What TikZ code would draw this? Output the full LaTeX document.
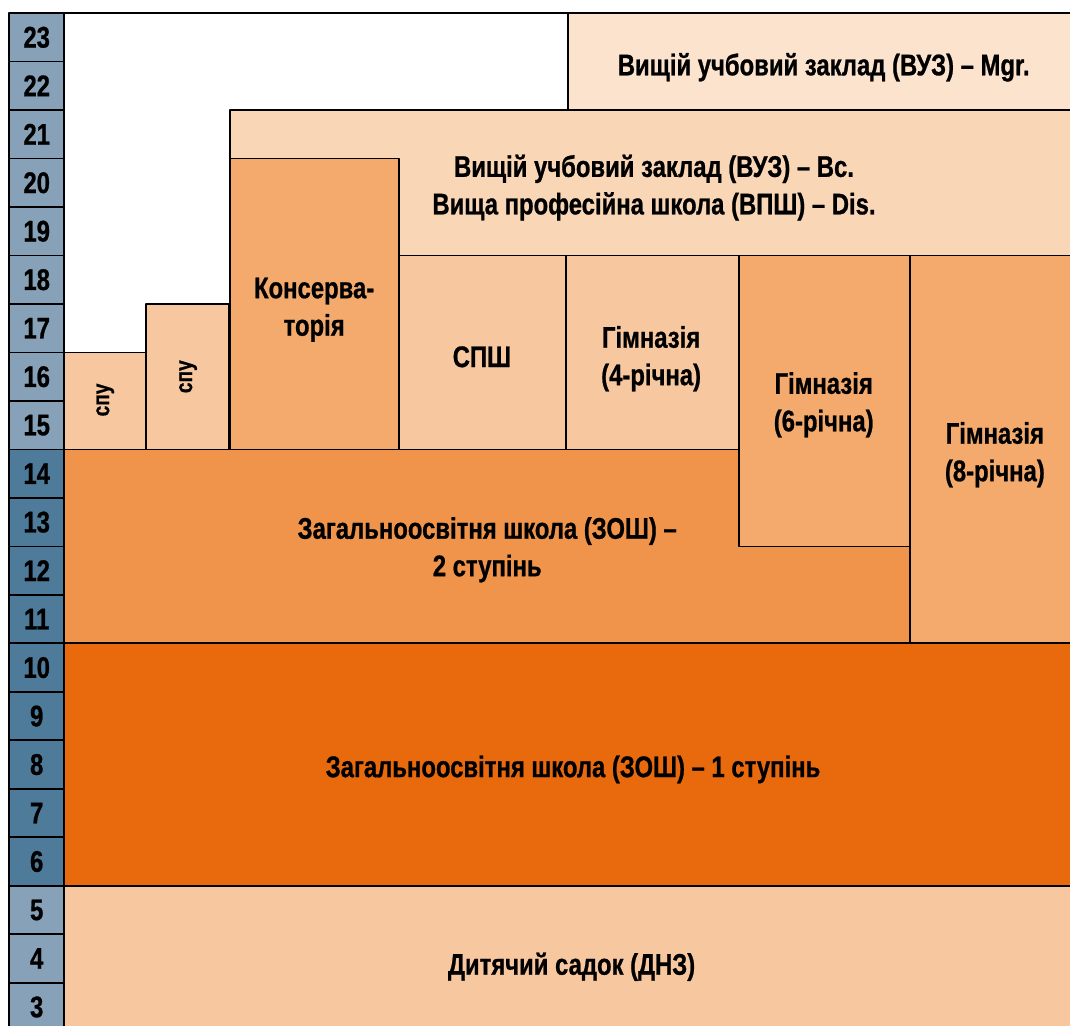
\documentclass[tikz,border=0pt]{standalone}
\usepackage{fontspec}
\setmainfont{Liberation Sans}[FakeStretch=0.8, FakeBold=0.8]
\definecolor{agelight}{RGB}{135,162,184}
\definecolor{agedark}{RGB}{79,123,154}
\definecolor{peach}{RGB}{247,200,160}
\definecolor{vuzbc}{RGB}{249,214,182}
\definecolor{vuzmgr}{RGB}{252,227,205}
\definecolor{gym}{RGB}{244,170,108}
\definecolor{zosh2}{RGB}{239,148,74}
\definecolor{zosh1}{RGB}{233,105,13}
\tikzset{
	box/.style={draw=black, line width=1pt},
	lbl/.style={align=center, inner sep=0pt},
	age/.style={draw=black, line width=1pt, minimum width=1.134cm, minimum height=1cm, inner sep=0pt, outer sep=0pt},
}
\begin{document}
\begin{tikzpicture}[font=\bfseries\fontsize{17.5}{22}\selectfont, line join=round, line cap=round]
	\useasboundingbox (-0.19,2.11) rectangle (21.88,23.27);
	\clip (-0.19,2.11) rectangle (21.88,23.27);
	% kindergarten and school
	\draw[box, fill=peach] (1.13,1) rectangle (22.5,5);
	\draw[box, fill=zosh1] (1.13,5) rectangle (22.5,10);
	\draw[box, fill=zosh2] (1.13,10) rectangle (18.58,14);
	\draw[box, fill=gym] (18.58,10) rectangle (22.5,18);
	\draw[box, fill=gym] (15.05,12) rectangle (18.58,18);
	\draw[box, fill=peach] (11.49,14) rectangle (15.05,18);
	\draw[box, fill=peach] (8.04,14) rectangle (11.49,18);
	\draw[box, fill=peach] (1.13,14) rectangle (2.82,16);
	\draw[box, fill=peach] (2.82,14) rectangle (4.54,17);
	% higher education
	\draw[box, fill=vuzbc] (4.56,18) rectangle (22.5,21);
	\draw[box, fill=gym] (4.56,14) rectangle (8.04,20);
	\draw[box, fill=vuzmgr] (11.53,21) rectangle (22.5,23);
	\draw[box] (1.13,23) -- (11.53,23);
	% labels
	\node[lbl] (dnz) at (11.6,3.33) {Дитячий садок (ДНЗ)};
	\node[lbl] (zosh1) at (11.63,7.4) {Загальноосвітня школа (ЗОШ) – 1 ступінь};
	\node[lbl] (zosh2) at (9.86,11.93) {Загальноосвітня школа (ЗОШ) –\\2 ступінь};
	\node[lbl] (gym8) at (20.33,13.89) {Гімназія\\(8-річна)};
	\node[lbl] (gym6) at (16.8,14.92) {Гімназія\\(6-річна)};
	\node[lbl] (gym4) at (13.24,15.87) {Гімназія\\(4-річна)};
	\node[lbl] (spsh) at (9.75,15.91) {СПШ};
	\node[lbl] (kons) at (6.29,16.88) {Консерва-\\торія};
	\node[lbl, rotate=90, font=\bfseries\fontsize{14}{16}\selectfont] (spu1) at (1.98,15.02) {спу};
	\node[lbl, rotate=90, font=\bfseries\fontsize{14}{16}\selectfont] (spu2) at (3.69,15.5) {спу};
	\node[lbl] (bc) at (13.3,19.4) {Вищій учбовий заклад (ВУЗ) – Bc.\\Вища професійна школа (ВПШ) – Dis.};
	\node[lbl] (mgr) at (16.8,21.88) {Вищій учбовий заклад (ВУЗ) – Mgr.};
	% age column
	\foreach \a in {2,3,4,5,15,16,...,23}
		\node[age, fill=agelight] (age\a) at (0.567,\a-0.5) {\ifnum\a>2 \a\fi};
	\foreach \a in {6,...,14}
		\node[age, fill=agedark] (age\a) at (0.567,\a-0.5) {\a};
\end{tikzpicture}
\end{document}
